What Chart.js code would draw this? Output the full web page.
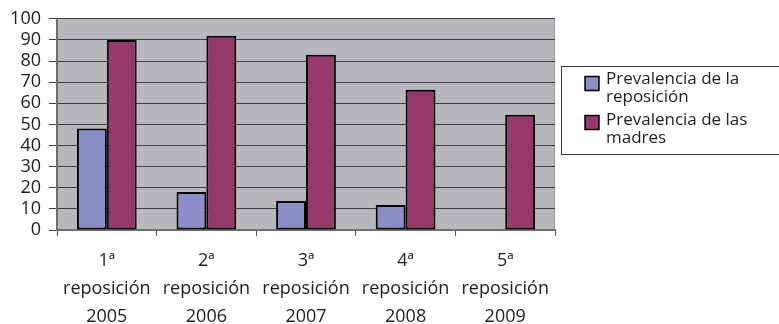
<!DOCTYPE html>
<html>
<head>
<meta charset="utf-8">
<script src="https://cdn.jsdelivr.net/npm/chart.js@4/dist/chart.umd.min.js"></script>
<style>
  html, body { margin: 0; padding: 0; background: #ffffff; }
  #wrap { width: 779px; height: 324px; position: relative; }
</style>
</head>
<body>
<div id="wrap"><canvas id="c" width="779" height="324"></canvas></div>
<script>
// Categories: each replacement round with its year
const categories = [
  ['1ª', 'reposición', '2005'],
  ['2ª', 'reposición', '2006'],
  ['3ª', 'reposición', '2007'],
  ['4ª', 'reposición', '2008'],
  ['5ª', 'reposición', '2009']
];

// Prevalence (%) per round
const prevalenciaReposicion = [48, 18, 13.7, 11.8, null];
const prevalenciaMadres = [90, 92, 83, 66.4, 54.6];

// Legend text, split into the lines shown in the legend box
const legendLines = [
  ['Prevalencia de la', 'reposición'],
  ['Prevalencia de las', 'madres']
];

const yTicks = { min: 0, max: 100, step: 10 };

const FONT = '"Open Sans", "Noto Sans", "DejaVu Sans", sans-serif';
const TEXT = '#1e1e1e';

// Gray plot background plus thin right edge of the plot area
const plotBackground = {
  id: 'plotBackground',
  beforeDraw(chart) {
    const { ctx, chartArea: a } = chart;
    ctx.save();
    ctx.fillStyle = '#b7b8bc';
    ctx.fillRect(a.left, a.top, a.right - a.left, a.bottom - a.top);
    ctx.strokeStyle = '#9a9a9e';
    ctx.lineWidth = 1;
    ctx.beginPath();
    ctx.moveTo(a.right - 0.5, a.top);
    ctx.lineTo(a.right - 0.5, a.bottom);
    ctx.stroke();
    ctx.restore();
  }
};

// Boxed legend to the right of the plot, with wrapped labels
const boxedLegend = {
  id: 'boxedLegend',
  afterDraw(chart) {
    const { ctx } = chart;
    ctx.save();
    ctx.strokeStyle = '#3a3a3a';
    ctx.lineWidth = 1;
    ctx.strokeRect(561.5, 66.5, 240, 88);

    const squareY = [83.5, 122.5];
    const textY = [[79, 97], [120, 138]];
    chart.data.datasets.forEach((ds, i) => {
      const yc = squareY[i];
      ctx.fillStyle = ds.backgroundColor;
      ctx.fillRect(585, yc - 7, 14, 14);
      ctx.strokeStyle = '#000000';
      ctx.lineWidth = 1.5;
      ctx.strokeRect(585, yc - 7, 14, 14);

      ctx.fillStyle = TEXT;
      ctx.font = '17px ' + FONT;
      ctx.textBaseline = 'middle';
      ctx.textAlign = 'left';
      legendLines[i].forEach((line, k) => {
        ctx.fillText(line, 606, textY[i][k]);
      });
    });
    ctx.restore();
  }
};

new Chart(document.getElementById('c'), {
  type: 'bar',
  data: {
    labels: categories,
    datasets: [
      {
        label: legendLines[0].join(' '),
        data: prevalenciaReposicion,
        backgroundColor: '#8c8ec8',
        borderColor: '#000000',
        borderWidth: 2,
        borderSkipped: false
      },
      {
        label: legendLines[1].join(' '),
        data: prevalenciaMadres,
        backgroundColor: '#96386c',
        borderColor: '#000000',
        borderWidth: 2,
        borderSkipped: false
      }
    ]
  },
  options: {
    responsive: false,
    animation: false,
    devicePixelRatio: 1,
    layout: { padding: { left: 0, right: 224, top: 18, bottom: 0 } },
    datasets: {
      bar: { categoryPercentage: 0.6, barPercentage: 1.0 }
    },
    plugins: {
      legend: { display: false },
      tooltip: { enabled: false },
      title: { display: false }
    },
    scales: {
      x: {
        offset: true,
        grid: {
          offset: true,
          drawOnChartArea: false,
          drawTicks: true,
          tickLength: 6,
          color: '#555555',
          lineWidth: 1
        },
        border: { display: true, color: '#6e6e72', width: 2 },
        ticks: {
          color: TEXT,
          padding: 11,
          maxRotation: 0,
          autoSkip: false,
          font: { family: FONT, size: 18, lineHeight: 1.56 }
        },
        afterFit(scale) { scale.height = 94; }
      },
      y: {
        min: yTicks.min,
        max: yTicks.max,
        grid: {
          color: '#3e3e40',
          lineWidth: 1,
          drawTicks: true,
          tickLength: 8
        },
        border: { display: true, color: '#6e6e72', width: 2 },
        ticks: {
          stepSize: yTicks.step,
          autoSkip: false,
          color: TEXT,
          padding: 8,
          font: { family: FONT, size: 18 }
        },
        afterFit(scale) { scale.width = 57; }
      }
    }
  },
  plugins: [plotBackground, boxedLegend]
});
</script>
</body>
</html>
